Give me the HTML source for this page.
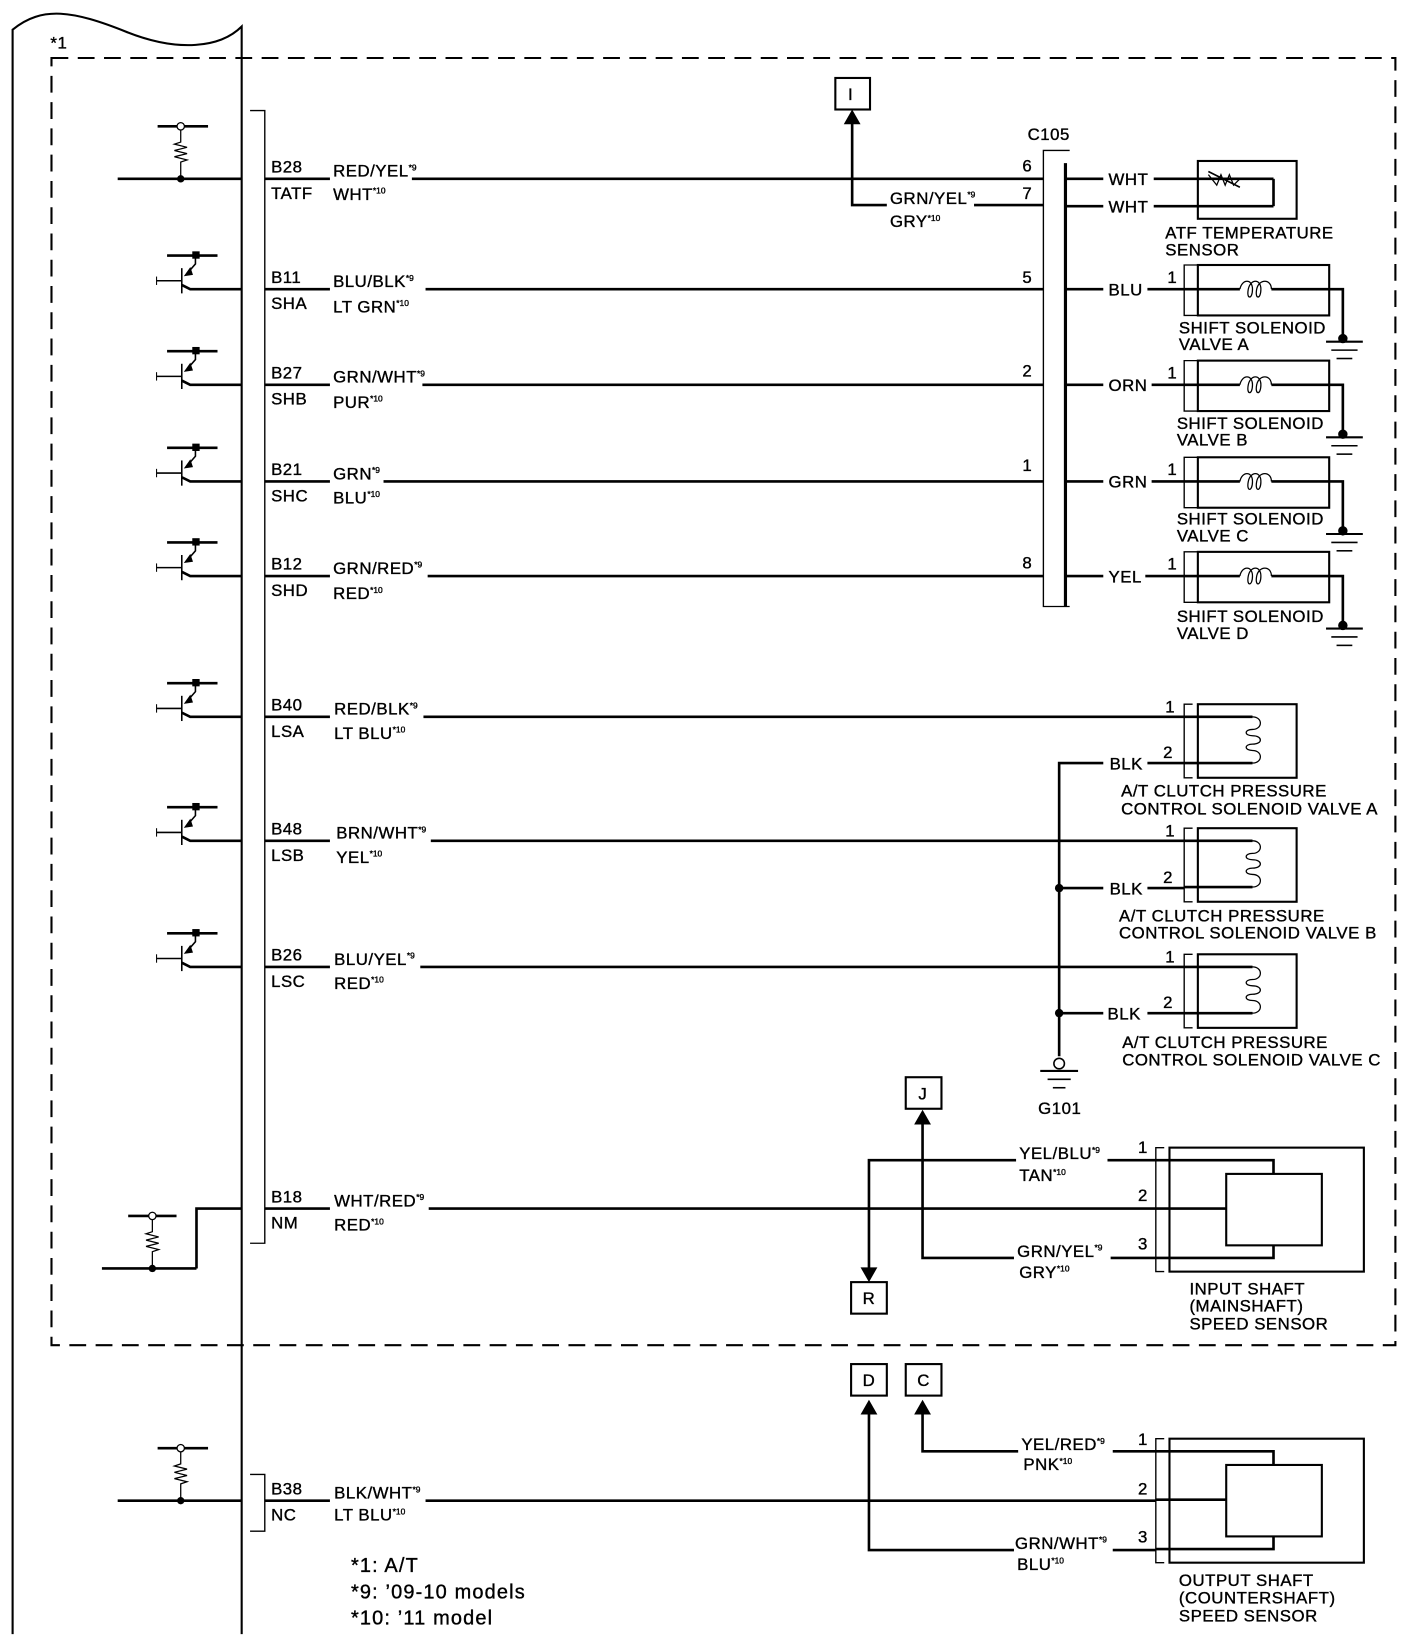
<!DOCTYPE html>
<html><head><meta charset="utf-8">
<style>
html,body{margin:0;padding:0;background:#fff}
svg{display:block}
text{font-family:"Liberation Sans",Arial,sans-serif;font-size:16px;letter-spacing:0.5px;fill:#000;stroke:#000;stroke-width:0.35}
.s{font-size:8px;letter-spacing:0}
.fn{font-size:19px;letter-spacing:1.1px}
</style></head><body>
<svg width="1408" height="1648" viewBox="0 0 1340 1568" xmlns="http://www.w3.org/2000/svg">
<defs>
<g id="tr" fill="none" stroke="#000">
  <line x1="-24" y1="-32" x2="24" y2="-32" stroke-width="2.5"/>
  <rect x="0" y="-36" width="7" height="7" fill="#000" stroke="none"/>
  <polyline points="3,-32 3,-24 -4,-16" stroke-width="1.5"/>
  <polygon points="-7,-13 -2,-20 0,-14" fill="#000" stroke-width="1"/>
  <line x1="-10" y1="-20" x2="-10" y2="4" stroke-width="1.5"/>
  <line x1="-34" y1="-8" x2="-10" y2="-8" stroke-width="1.5"/>
  <line x1="-34" y1="-12" x2="-34" y2="-4" stroke-width="1"/>
  <polyline points="-10,-4 -2,0 47,0" stroke-width="2.5"/>
</g>
<g id="res" fill="none" stroke="#000" stroke-width="1.2">
  <polyline points="0,0 0,12 -6,14 6,17 -6,20 6,23 -6,26 6,29 0,31 0,46" />
</g>
<g id="gnd" stroke="#000" stroke-width="2">
  <line x1="-16" y1="0" x2="19" y2="0"/>
  <line x1="-11" y1="8" x2="14" y2="8" stroke-width="1.5"/>
  <line x1="-6" y1="16" x2="9" y2="16" stroke-width="1.5"/>
</g>
</defs>

<path d="M12,1555 L12,28 C40,5 70,10 120,30 C170,50 210,45 230,25 L230,1555" fill="none" stroke="#000" stroke-width="2"/>
<rect x="49" y="55" width="1279" height="1225" fill="none" stroke="#000" stroke-width="2" stroke-dasharray="16,9"/>
<text x="48" y="46" font-size="13">*1</text>

<polyline points="238,105 252,105 252,1183 238,1183" fill="none" stroke="#000" stroke-width="1.3"/>
<polyline points="238,1403 252,1403 252,1457 238,1457" fill="none" stroke="#000" stroke-width="1.3"/>

<g stroke="#000" stroke-width="2.5" fill="none">
  <line x1="112" y1="170" x2="230" y2="170"/>
  <line x1="150" y1="120" x2="198" y2="120"/>
  <line x1="97" y1="1207" x2="187" y2="1207"/>
  <polyline points="187,1207 187,1150 230,1150"/>
  <line x1="122" y1="1157" x2="168" y2="1157"/>
  <line x1="112" y1="1428" x2="230" y2="1428"/>
  <line x1="150" y1="1378" x2="198" y2="1378"/>
  <line x1="252" y1="170" x2="314" y2="170"/><line x1="392" y1="170" x2="993" y2="170"/>
  <line x1="252" y1="275" x2="314" y2="275"/><line x1="405" y1="275" x2="993" y2="275"/>
  <line x1="252" y1="366" x2="314" y2="366"/><line x1="402" y1="366" x2="993" y2="366"/>
  <line x1="252" y1="458" x2="314" y2="458"/><line x1="365" y1="458" x2="993" y2="458"/>
  <line x1="252" y1="548" x2="314" y2="548"/><line x1="407" y1="548" x2="993" y2="548"/>
  <line x1="252" y1="682" x2="314" y2="682"/><line x1="403" y1="682" x2="1127" y2="682"/>
  <line x1="252" y1="800" x2="314" y2="800"/><line x1="410" y1="800" x2="1127" y2="800"/>
  <line x1="252" y1="920" x2="314" y2="920"/><line x1="400" y1="920" x2="1127" y2="920"/>
  <line x1="252" y1="1150" x2="314" y2="1150"/><line x1="408" y1="1150" x2="1100" y2="1150"/>
  <line x1="252" y1="1428" x2="314" y2="1428"/><line x1="405" y1="1428" x2="1100" y2="1428"/>
  <polyline points="844,195 811,195 811,112"/>
  <line x1="927" y1="195" x2="993" y2="195"/>
  <line x1="1014" y1="155" x2="1014" y2="577" stroke-width="3"/>
  <line x1="1014" y1="170" x2="1050" y2="170"/><line x1="1098" y1="170" x2="1212" y2="170"/>
  <line x1="1014" y1="196" x2="1050" y2="196"/><line x1="1098" y1="196" x2="1212" y2="196"/>
  <line x1="1212" y1="170" x2="1212" y2="196"/>
  <line x1="1014" y1="275" x2="1050" y2="275"/><line x1="1092" y1="275" x2="1127" y2="275"/>
  <line x1="1014" y1="366" x2="1050" y2="366"/><line x1="1096" y1="366" x2="1127" y2="366"/>
  <line x1="1014" y1="458" x2="1050" y2="458"/><line x1="1096" y1="458" x2="1127" y2="458"/>
  <line x1="1014" y1="548" x2="1050" y2="548"/><line x1="1090" y1="548" x2="1127" y2="548"/>
  <polyline points="1050,726 1008,726 1008,1005"/>
  <line x1="1008" y1="845" x2="1050" y2="845"/>
  <line x1="1008" y1="964" x2="1050" y2="964"/>
  <line x1="1092" y1="726" x2="1127" y2="726"/>
  <line x1="1092" y1="845" x2="1127" y2="845"/>
  <line x1="1092" y1="964" x2="1127" y2="964"/>
  <polyline points="967,1104 827,1104 827,1212"/>
  <line x1="1054" y1="1104" x2="1100" y2="1104"/>
  <polyline points="965,1197 878,1197 878,1064"/>
  <line x1="1057" y1="1197" x2="1100" y2="1197"/>
  <polyline points="969,1381 878,1381 878,1340"/>
  <line x1="1059" y1="1381" x2="1100" y2="1381"/>
  <polyline points="965,1475 827,1475 827,1340"/>
  <line x1="1059" y1="1475" x2="1100" y2="1475"/>
</g>

<polygon points="811,104 803,118 819,118"/>
<polygon points="878,1056 870,1070 886,1070"/>
<polygon points="827,1220 819,1206 835,1206"/>
<polygon points="878,1332 870,1346 886,1346"/>
<polygon points="827,1332 819,1346 835,1346"/>

<use href="#res" x="172" y="123"/>
<circle cx="172" cy="120" r="3.5" fill="#fff" stroke="#000" stroke-width="1.2"/>
<circle cx="172" cy="170" r="3.5"/>
<use href="#res" x="145" y="1160"/>
<circle cx="145" cy="1157" r="3.5" fill="#fff" stroke="#000" stroke-width="1.2"/>
<circle cx="145" cy="1207" r="3.5"/>
<use href="#res" x="172" y="1381"/>
<circle cx="172" cy="1378" r="3.5" fill="#fff" stroke="#000" stroke-width="1.2"/>
<circle cx="172" cy="1428" r="3.5"/>
<use href="#tr" x="183" y="275"/>
<use href="#tr" x="183" y="366"/>
<use href="#tr" x="183" y="458"/>
<use href="#tr" x="183" y="548"/>
<use href="#tr" x="183" y="682"/>
<use href="#tr" x="183" y="800"/>
<use href="#tr" x="183" y="920"/>

<g>
<text x="258" y="164">B28</text><text x="258" y="189">TATF</text>
<text x="258" y="269">B11</text><text x="258" y="294">SHA</text>
<text x="258" y="360">B27</text><text x="258" y="385">SHB</text>
<text x="258" y="452">B21</text><text x="258" y="477">SHC</text>
<text x="258" y="542">B12</text><text x="258" y="567">SHD</text>
<text x="258" y="676">B40</text><text x="258" y="701">LSA</text>
<text x="258" y="794">B48</text><text x="258" y="819">LSB</text>
<text x="258" y="914">B26</text><text x="258" y="939">LSC</text>
<text x="258" y="1144">B18</text><text x="258" y="1169">NM</text>
<text x="258" y="1422">B38</text><text x="258" y="1447">NC</text>
</g>
<g>
<text x="317" y="168">RED/YEL<tspan class="s" dy="-6">*9</tspan></text><text x="317" y="190">WHT<tspan class="s" dy="-6">*10</tspan></text>
<text x="317" y="273">BLU/BLK<tspan class="s" dy="-6">*9</tspan></text><text x="317" y="297">LT GRN<tspan class="s" dy="-6">*10</tspan></text>
<text x="317" y="364">GRN/WHT<tspan class="s" dy="-6">*9</tspan></text><text x="317" y="388">PUR<tspan class="s" dy="-6">*10</tspan></text>
<text x="317" y="456">GRN<tspan class="s" dy="-6">*9</tspan></text><text x="317" y="479">BLU<tspan class="s" dy="-6">*10</tspan></text>
<text x="317" y="546">GRN/RED<tspan class="s" dy="-6">*9</tspan></text><text x="317" y="570">RED<tspan class="s" dy="-6">*10</tspan></text>
<text x="318" y="680">RED/BLK<tspan class="s" dy="-6">*9</tspan></text><text x="318" y="703">LT BLU<tspan class="s" dy="-6">*10</tspan></text>
<text x="320" y="798">BRN/WHT<tspan class="s" dy="-6">*9</tspan></text><text x="320" y="821">YEL<tspan class="s" dy="-6">*10</tspan></text>
<text x="318" y="918">BLU/YEL<tspan class="s" dy="-6">*9</tspan></text><text x="318" y="941">RED<tspan class="s" dy="-6">*10</tspan></text>
<text x="318" y="1148">WHT/RED<tspan class="s" dy="-6">*9</tspan></text><text x="318" y="1171">RED<tspan class="s" dy="-6">*10</tspan></text>
<text x="318" y="1426">BLK/WHT<tspan class="s" dy="-6">*9</tspan></text><text x="318" y="1447">LT BLU<tspan class="s" dy="-6">*10</tspan></text>
<text x="847" y="194">GRN/YEL<tspan class="s" dy="-6">*9</tspan></text><text x="847" y="216">GRY<tspan class="s" dy="-6">*10</tspan></text>
<text x="970" y="1103">YEL/BLU<tspan class="s" dy="-6">*9</tspan></text><text x="970" y="1124">TAN<tspan class="s" dy="-6">*10</tspan></text>
<text x="968" y="1196">GRN/YEL<tspan class="s" dy="-6">*9</tspan></text><text x="970" y="1216">GRY<tspan class="s" dy="-6">*10</tspan></text>
<text x="972" y="1380">YEL/RED<tspan class="s" dy="-6">*9</tspan></text><text x="974" y="1399">PNK<tspan class="s" dy="-6">*10</tspan></text>
<text x="966" y="1474">GRN/WHT<tspan class="s" dy="-6">*9</tspan></text><text x="968" y="1494">BLU<tspan class="s" dy="-6">*10</tspan></text>
</g>

<g fill="#fff" stroke="#000" stroke-width="2">
<rect x="795" y="74" width="33" height="30"/>
<rect x="862" y="1025" width="34" height="30"/>
<rect x="810" y="1220" width="34" height="30"/>
<rect x="810" y="1298" width="34" height="30"/>
<rect x="862" y="1298" width="34" height="30"/>
</g>
<text x="807" y="95">I</text>
<text x="874" y="1046">J</text>
<text x="821" y="1241">R</text>
<text x="821" y="1319">D</text>
<text x="873" y="1319">C</text>

<polyline points="1018,143 993,143 993,577 1018,577" fill="none" stroke="#000" stroke-width="1.3"/>
<text x="978" y="133">C105</text>
<text x="973" y="163">6</text><text x="973" y="189">7</text><text x="973" y="269">5</text>
<text x="973" y="358">2</text><text x="973" y="448">1</text><text x="973" y="541">8</text>
<text x="1055" y="176">WHT</text><text x="1055" y="202">WHT</text>
<text x="1055" y="281">BLU</text><text x="1055" y="372">ORN</text>
<text x="1055" y="464">GRN</text><text x="1055" y="554">YEL</text>

<rect x="1140" y="153" width="94" height="55" fill="none" stroke="#000" stroke-width="2"/>
<polyline points="1150,166 1158,176 1162,166 1166,176 1170,166 1174,176 1180,170" fill="none" stroke="#000" stroke-width="1.2"/>
<line x1="1150" y1="163" x2="1180" y2="178" stroke="#000" stroke-width="1.5"/>
<text x="1109" y="227">ATF TEMPERATURE</text><text x="1109" y="243">SENSOR</text>

<g id="ssv" stroke="#000" fill="none">
  <polyline points="1140,252 1127,252 1127,300 1140,300" stroke-width="1.3"/>
  <rect x="1140" y="252" width="125" height="48" stroke-width="2"/>
  <line x1="1127" y1="275" x2="1180" y2="275" stroke-width="2.5"/>
  <path d="M1180,275 C1182,265 1192,265 1192,275 C1192,285 1186,285 1188,275 C1190,265 1200,265 1200,275 C1200,285 1194,285 1196,275 C1198,265 1210,265 1210,275" stroke-width="1.2"/>
  <polyline points="1210,275 1278,275 1278,320" stroke-width="2.5"/>
  <circle cx="1278" cy="322" r="4" fill="#000"/>
  <use href="#gnd" x="1278" y="325"/>
</g>
<use href="#ssv" y="91"/>
<use href="#ssv" y="183"/>
<use href="#ssv" y="273"/>
<text x="1111" y="269">1</text><text x="1111" y="360">1</text><text x="1111" y="452">1</text><text x="1111" y="542">1</text>
<text x="1122" y="317">SHIFT SOLENOID</text><text x="1122" y="333">VALVE A</text>
<text x="1120" y="408">SHIFT SOLENOID</text><text x="1120" y="424">VALVE B</text>
<text x="1120" y="499">SHIFT SOLENOID</text><text x="1120" y="515">VALVE C</text>
<text x="1120" y="592">SHIFT SOLENOID</text><text x="1120" y="608">VALVE D</text>

<g id="cps" stroke="#000" fill="none">
  <polyline points="1135,670 1127,670 1127,740 1135,740" stroke-width="1.3"/>
  <rect x="1140" y="670" width="94" height="70" stroke-width="2"/>
  <line x1="1127" y1="682" x2="1192" y2="682" stroke-width="2.5"/>
  <line x1="1127" y1="726" x2="1192" y2="726" stroke-width="2.5"/>
  <path d="M1192,682 C1202,682 1202,694 1192,694 C1184,694 1184,700 1192,700 C1202,700 1202,708 1192,708 C1184,708 1184,714 1192,714 C1202,714 1202,726 1192,726" stroke-width="1.2"/>
</g>
<use href="#cps" y="118"/>
<use href="#cps" y="238"/>
<text x="1109" y="678">1</text><text x="1107" y="721">2</text>
<text x="1109" y="796">1</text><text x="1107" y="840">2</text>
<text x="1109" y="916">1</text><text x="1107" y="959">2</text>
<text x="1056" y="732">BLK</text><text x="1056" y="851">BLK</text><text x="1054" y="970">BLK</text>
<text x="1067" y="758">A/T CLUTCH PRESSURE</text><text x="1067" y="775">CONTROL SOLENOID VALVE A</text>
<text x="1065" y="877">A/T CLUTCH PRESSURE</text><text x="1065" y="893">CONTROL SOLENOID VALVE B</text>
<text x="1068" y="997">A/T CLUTCH PRESSURE</text><text x="1068" y="1014">CONTROL SOLENOID VALVE C</text>
<circle cx="1008" cy="845" r="4"/>
<circle cx="1008" cy="964" r="4"/>
<circle cx="1008" cy="1012" r="5" fill="#fff" stroke="#000" stroke-width="1.5"/>
<g stroke="#000" stroke-width="2">
<line x1="990" y1="1019" x2="1026" y2="1019"/>
<line x1="997" y1="1027" x2="1019" y2="1027" stroke-width="1.5"/>
<line x1="1002" y1="1035" x2="1014" y2="1035" stroke-width="1.5"/>
</g>
<text x="988" y="1060">G101</text>

<g id="sps" stroke="#000" fill="none">
  <polyline points="1108,1092 1100,1092 1100,1210 1108,1210" stroke-width="1.3"/>
  <rect x="1113" y="1092" width="185" height="118" stroke-width="2"/>
  <rect x="1167" y="1117" width="91" height="68" stroke-width="2"/>
  <polyline points="1100,1104 1212,1104 1212,1117" stroke-width="2.5"/>
  <line x1="1100" y1="1150" x2="1167" y2="1150" stroke-width="2.5"/>
  <polyline points="1100,1197 1212,1197 1212,1185" stroke-width="2.5"/>
</g>
<use href="#sps" y="277"/>
<text x="1083" y="1097">1</text><text x="1083" y="1143">2</text><text x="1083" y="1189">3</text>
<text x="1083" y="1375">1</text><text x="1083" y="1422">2</text><text x="1083" y="1468">3</text>
<text x="1132" y="1232">INPUT SHAFT</text><text x="1132" y="1248">(MAINSHAFT)</text><text x="1132" y="1265">SPEED SENSOR</text>
<text x="1122" y="1509">OUTPUT SHAFT</text><text x="1122" y="1526">(COUNTERSHAFT)</text><text x="1122" y="1543">SPEED SENSOR</text>

<text class="fn" x="334" y="1496">*1: A/T</text>
<text class="fn" x="334" y="1521">*9: ’09-10 models</text>
<text class="fn" x="334" y="1546">*10: ’11 model</text>
</svg>
</body></html>
